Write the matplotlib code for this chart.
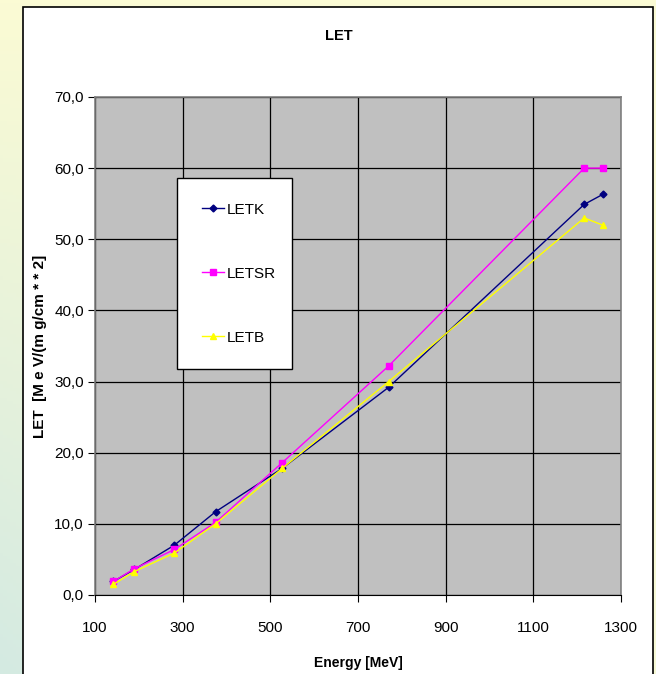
import numpy as np
import matplotlib
matplotlib.use("Agg")
import matplotlib.pyplot as plt
from matplotlib.patches import Rectangle

plt.rcParams['font.family'] = ['Liberation Sans', 'DejaVu Sans']

# energies and LET values for the three codes
energy = [142, 190, 281, 375, 527, 770, 1216, 1258]
letk = [1.9, 3.6, 7.0, 11.7, 17.8, 29.2, 54.9, 56.3]
letsr = [1.9, 3.7, 6.4, 10.2, 18.6, 32.2, 60.0, 60.0]
letb = [1.5, 3.3, 5.9, 10.0, 17.8, 30.0, 53.0, 52.0]

xticks = [100, 300, 500, 700, 900, 1100, 1300]
yticks = [0, 10, 20, 30, 40, 50, 60, 70]

W, H = 656, 674
fig = plt.figure(figsize=(W / 100, H / 100), dpi=100)

# slide background: pale yellow fading to pale teal towards bottom-left
bg = fig.add_axes([0, 0, 1, 1], zorder=-10)
yy, xx = np.mgrid[0:1:200j, 0:1:200j]
t = np.clip(yy * (1 - 0.9 * xx), 0, 1)[..., None]
top = np.array([251, 251, 212]) / 255
bot = np.array([212, 234, 226]) / 255
bg.imshow(top * (1 - t) + bot * t, aspect='auto', origin='upper', extent=[0, 1, 1, 0])
bg.set_xlim(0, 1)
bg.set_ylim(1, 0)
bg.axis('off')

# white chart area
bg.add_patch(Rectangle((23 / W, 7 / H), 630 / W, 700 / H, facecolor='white',
                       edgecolor='black', linewidth=1.2, zorder=2))

ax = fig.add_axes([95 / W, 1 - 595 / H, 526 / W, 498 / H])
ax.set_facecolor('#c0c0c0')

ax.plot(energy, letk, color='#000080', marker='D', markersize=3.5, linewidth=1, label='LETK')
ax.plot(energy, letsr, color='#ff00ff', marker='s', markersize=4, linewidth=1, label='LETSR')
ax.plot(energy, letb, color='#ffff00', marker='^', markersize=5, linewidth=1, label='LETB')

ax.set_xlim(100, 1300)
ax.set_ylim(0, 70)
ax.set_xticks(xticks)
ax.set_yticks(yticks)
ax.set_yticklabels([f"{v:.1f}".replace('.', ',') for v in yticks])
ax.grid(True, color='black', linewidth=0.9)
ax.set_axisbelow(True)
ax.tick_params(axis='both', labelsize=11, length=5, color='black')
ax.tick_params(axis='x', pad=14)
ax.tick_params(axis='y', pad=3)
for side in ['left', 'right', 'top']:
    ax.spines[side].set_color('#808080')
    ax.spines[side].set_linewidth(1.2)
ax.spines['bottom'].set_color('black')

ax.set_xlabel('Energy [MeV]', fontsize=10, fontweight='bold', labelpad=15)
ax.set_ylabel('LET  [M e V/(m g/cm * * 2]', fontsize=11, fontweight='bold', labelpad=5)
fig.text(338.5 / W, 1 - 36.5 / H, 'LET', ha='center', va='center', fontsize=10.5, fontweight='bold')

leg = ax.legend(loc='upper left', bbox_to_anchor=(0.156, 0.837, 0.219, 0.0), mode='expand',
                fontsize=11, frameon=True, fancybox=False, labelspacing=3.27, borderpad=1.6,
                handlelength=1.5, handletextpad=0.15, borderaxespad=0, framealpha=1)
leg.get_frame().set_facecolor('white')
leg.get_frame().set_edgecolor('black')
leg.get_frame().set_linewidth(1)

fig.savefig('out.png', dpi=100)
